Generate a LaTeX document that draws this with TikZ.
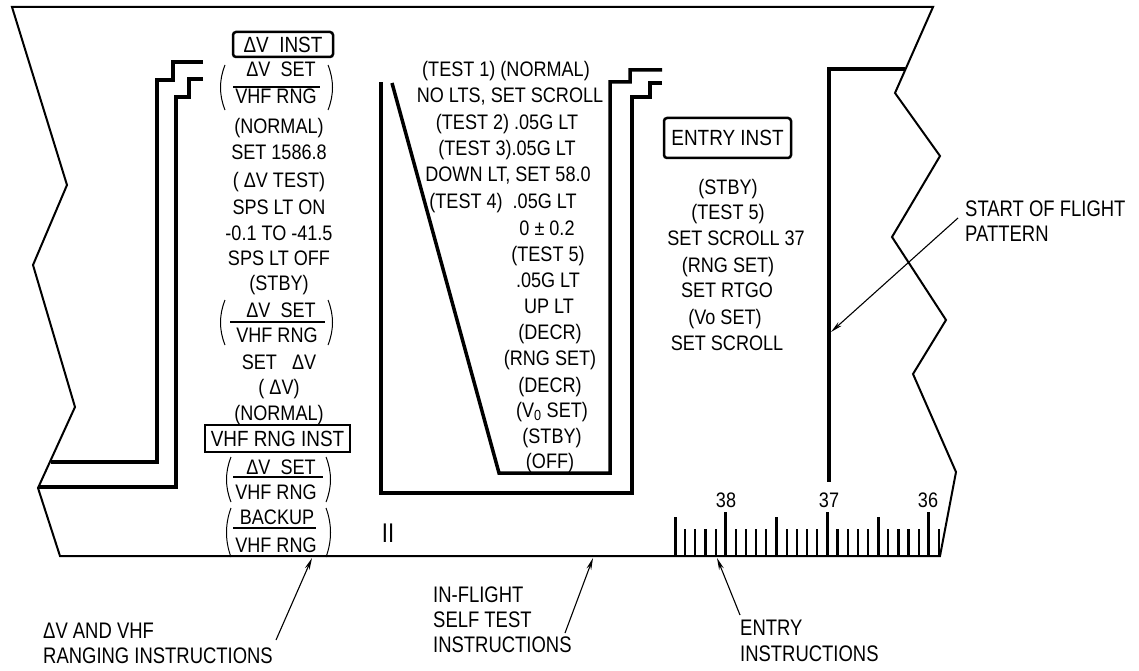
\documentclass[tikz,border=0pt]{standalone}
\usepackage{fontspec}
\setmainfont{Liberation Sans}[FakeStretch=0.86]
\newfontfamily\lblfont{Liberation Sans}[FakeStretch=0.82]
\usetikzlibrary{arrows.meta}
\begin{document}
\begin{tikzpicture}[x=1pt,y=-1pt,
  txt/.style={font=\fontsize{21}{23}\selectfont, inner sep=0pt, anchor=base},
  lbl/.style={font=\lblfont\fontsize{22.5}{26}\selectfont, inner sep=0pt, anchor=base west},
  outline/.style={line width=2pt, line join=miter},
  bracket/.style={line width=3.5pt, line join=miter},
  boxed/.style={draw, line width=2.5pt, inner sep=0pt, font=\fontsize{22}{24}\selectfont},
  fracbar/.style={line width=1.3pt},
  paren/.style={line width=1pt},
  ptr/.style={-{Stealth[length=12pt,width=5pt]}, line width=1.1pt},
  tick/.style={line width=2.2pt},
  major/.style={line width=3pt}]
\useasboundingbox (0,0) rectangle (1139,671);

% outline
\draw[outline] (12,7) -- (67,185) -- (33,265) -- (75,407) -- (38,488) -- (60,556)
  -- (940,556) -- (956,472) -- (913,374) -- (946,320) -- (892,237) -- (940,156)
  -- (895,93) -- (933,7) -- cycle;

% left brackets
\draw[bracket] (203,62) -- (173,62) -- (173,80) -- (157,80) -- (157,462) -- (51,462);
\draw[bracket] (203,79) -- (189,79) -- (189,97) -- (176,97) -- (176,487) -- (38,487);

% middle brackets
\draw[bracket] (662,70) -- (630,70) -- (630,82) -- (610,82) -- (610,473) -- (499,473) -- (392,83);
\draw[bracket] (662,83) -- (650,83) -- (650,97) -- (632,97) -- (632,493) -- (381,493) -- (381,82);

% flight pattern start line
\draw[bracket] (905,69) -- (829,69) -- (829,482);

% ---------- left column ----------
\node[boxed, rounded corners=3pt, minimum width=100pt, minimum height=25pt] (dvinst) at (283,44.5) {ΔV\ \ INST};
\node[txt] (f1n) at (281,77) {ΔV\ \ SET};
\node[txt] (f1d) at (276,104) {VHF\ RNG};
\draw[fracbar] (233,87) -- (320,87);
\draw[paren] (225,65) .. controls (219,80) and (219,95) .. (225,110);
\draw[paren] (328,65) .. controls (334,80) and (334,95) .. (328,110);
\node[txt] (l1) at (279,134) {(NORMAL)};
\node[txt] (l2) at (279,160) {SET 1586.8};
\node[txt] (l3) at (279,187) {( ΔV TEST)};
\node[txt] (l4) at (279,214) {SPS LT ON};
\node[txt] (l5) at (279,240) {-0.1 TO -41.5};
\node[txt] (l6) at (279,265) {SPS LT OFF};
\node[txt] (l7) at (279,290) {(STBY)};
\node[txt] (f2n) at (281,317) {ΔV\ \ SET};
\node[txt] (f2d) at (277,342) {VHF\ RNG};
\draw[fracbar] (230,322) -- (325,322);
\draw[paren] (225,300) .. controls (219,315) and (219,330) .. (225,345);
\draw[paren] (328,300) .. controls (334,315) and (334,330) .. (328,345);
\node[txt] (l8) at (279,369) {SET\ \ \ ΔV};
\node[txt] (l9) at (279,394) {( ΔV)};
\node[txt] (l10) at (279,420) {(NORMAL)};
\node[boxed, minimum width=145pt, minimum height=27pt] (vhfinst) at (277.5,438.5) {VHF RNG INST};
\node[txt] (f3n) at (281,474) {ΔV\ \ SET};
\node[txt] (f3d) at (276,499) {VHF RNG};
\draw[fracbar] (233,477) -- (323,477);
\draw[paren] (231,457) .. controls (225,472) and (225,487) .. (231,502);
\draw[paren] (326,457) .. controls (332,472) and (332,487) .. (326,502);
\node[txt] (f4n) at (277,524) {BACKUP};
\node[txt] (f4d) at (276,552) {VHF RNG};
\draw[fracbar] (233,528) -- (316,528);
\draw[paren] (231,508) .. controls (225,524) and (225,541) .. (231,557);
\draw[paren] (326,508) .. controls (332,524) and (332,541) .. (326,557);

\node[font=\lblfont\fontsize{27}{27}\selectfont, inner sep=0pt, anchor=base] (two) at (388,542) {II};

% ---------- middle column ----------
\node[txt] (m1) at (506,77) {(TEST 1) (NORMAL)};
\node[txt] (m2) at (510,103) {NO LTS, SET SCROLL};
\node[txt] (m3) at (507,130) {(TEST 2) .05G LT};
\node[txt] (m4) at (507,156) {(TEST 3).05G LT};
\node[txt] (m5) at (508,182) {DOWN LT, SET 58.0};
\node[txt] (m6) at (503,208) {(TEST 4) \ .05G LT};
\node[txt] (m7) at (547,235) {0 ± 0.2};
\node[txt] (m8) at (548,261) {(TEST 5)};
\node[txt] (m9) at (548,287) {.05G LT};
\node[txt] (m10) at (549,313) {UP LT};
\node[txt] (m11) at (550,339) {(DECR)};
\node[txt] (m12) at (550,365) {(RNG SET)};
\node[txt] (m13) at (550,392) {(DECR)};
\node[txt] (m14) at (552,417) {(V\textsubscript{0} SET)};
\node[txt] (m15) at (552,443) {(STBY)};
\node[txt] (m16) at (550,468) {(OFF)};

% ---------- right column ----------
\node[boxed, rounded corners=3pt, minimum width=127pt, minimum height=40pt] (entryinst) at (727.5,138) {ENTRY INST};
\node[txt] (r1) at (728,194) {(STBY)};
\node[txt] (r2) at (728,219) {(TEST 5)};
\node[txt] (r3) at (736,245) {SET SCROLL 37};
\node[txt] (r4) at (728,272) {(RNG SET)};
\node[txt] (r5) at (727,297) {SET RTGO};
\node[txt] (r6) at (725,324) {(Vo SET)};
\node[txt] (r7) at (727,350) {SET SCROLL};

% ---------- scale ----------
\foreach \i in {0,...,26}{
  \pgfmathsetmacro{\xx}{675+\i*10.154}
  \pgfmathtruncatemacro{\m}{mod(\i,10)}
  \pgfmathtruncatemacro{\f}{mod(\i,5)}
  \ifnum\m=5
    \draw[major] (\xx,556) -- (\xx,512);
  \else\ifnum\f=0
    \draw[major] (\xx,556) -- (\xx,517);
  \else
    \draw[tick] (\xx,556) -- (\xx,529);
  \fi\fi
}
\node[txt] (s38) at (726,507) {38};
\node[txt] (s37) at (829,507) {37};
\node[txt] (s36) at (928,507) {36};

% ---------- labels and pointers ----------
\node[lbl] (la1) at (43,638) {ΔV AND VHF};
\node[lbl] (la2) at (43,663) {RANGING INSTRUCTIONS};
\node[lbl] (lb1) at (433,602) {IN-FLIGHT};
\node[lbl] (lb2) at (433,627) {SELF TEST};
\node[lbl] (lb3) at (433,652) {INSTRUCTIONS};
\node[lbl] (lc1) at (740,635) {ENTRY};
\node[lbl] (lc2) at (740,661) {INSTRUCTIONS};
\node[lbl] (ld1) at (965,216) {START OF FLIGHT};
\node[lbl] (ld2) at (965,241) {PATTERN};

\coordinate (ta) at (276,640);
\coordinate (ha) at (312,558);
\coordinate (tb) at (565,633);
\coordinate (hb) at (593,558);
\coordinate (tc) at (740,615);
\coordinate (hc) at (717,558);
\coordinate (td) at (958,218);
\coordinate (hd) at (831,332);
\draw[ptr] (ta) -- (ha);
\draw[ptr] (tb) -- (hb);
\draw[ptr] (tc) -- (hc);
\draw[ptr] (td) -- (hd);
\end{tikzpicture}
\end{document}
